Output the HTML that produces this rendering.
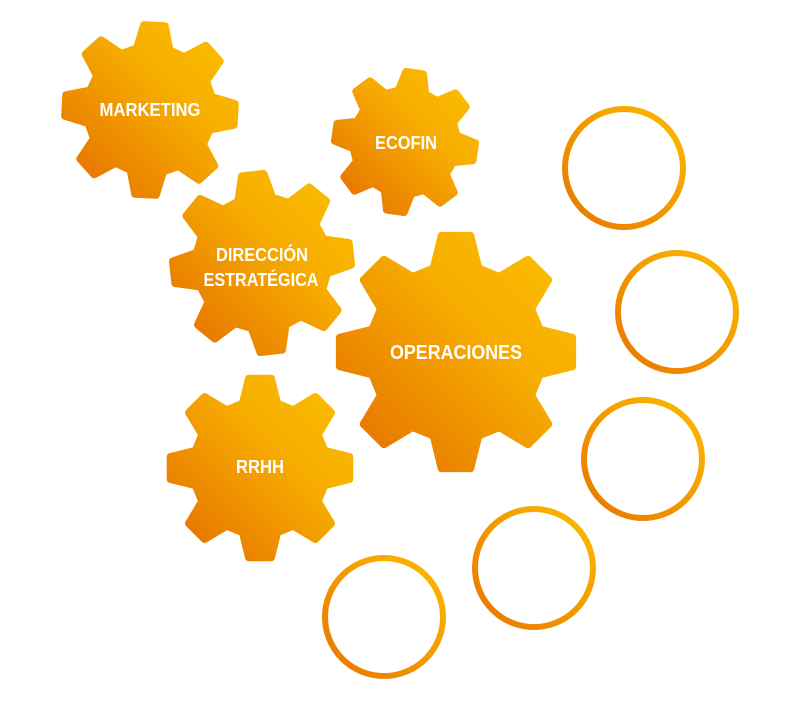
<!DOCTYPE html>
<html><head><meta charset="utf-8"><style>html,body{margin:0;padding:0;background:#fff}svg{display:block}</style></head>
<body>
<svg id="s" width="800" height="702" viewBox="0 0 800 702" xmlns="http://www.w3.org/2000/svg">
<defs>
<linearGradient id="g" x1="0" y1="1" x2="1" y2="0">
<stop offset="0" stop-color="#e56c00"/><stop offset="0.6" stop-color="#f6ac00"/><stop offset="1" stop-color="#fcbf00"/>
</linearGradient>
<linearGradient id="r" x1="0" y1="1" x2="1" y2="0">
<stop offset="0" stop-color="#e87600"/><stop offset="1" stop-color="#fcbc00"/>
</linearGradient>
</defs>
<g id="gears"></g>
<g fill="none" stroke="url(#r)" stroke-width="6">
<circle cx="624" cy="168" r="59"/>
<circle cx="677" cy="312" r="59"/>
<circle cx="643" cy="459" r="59"/>
<circle cx="534" cy="568" r="59"/>
<circle cx="384" cy="617" r="59"/>
</g>
<g font-family="Liberation Sans, sans-serif" font-weight="bold" fill="#fff" text-anchor="middle">
<text x="150" y="116" font-size="18" textLength="101" lengthAdjust="spacingAndGlyphs">MARKETING</text>
<text x="406" y="149" font-size="18" textLength="62" lengthAdjust="spacingAndGlyphs">ECOFIN</text>
<text x="262" y="261" font-size="18" textLength="92" lengthAdjust="spacingAndGlyphs">DIRECCIÓN</text>
<text x="261" y="286" font-size="18" textLength="115" lengthAdjust="spacingAndGlyphs">ESTRATÉGICA</text>
<text x="456" y="359" font-size="20" textLength="132" lengthAdjust="spacingAndGlyphs">OPERACIONES</text>
<text x="260" y="473" font-size="18" textLength="48" lengthAdjust="spacingAndGlyphs">RRHH</text>
</g>
</svg>
<script>
(function(){
var gears=[[150,110,89,3],[405,142,74,8],[262,263,93,-6],[456,352,121,0],[260,468,94,0]];
var out='';
gears.forEach(function(g){
 var cx=g[0],cy=g[1],R=g[2]-4,rot=g[3]*Math.PI/180,ri=R*0.74;
 var pts=[];
 for(var i=0;i<8;i++){
  var a=rot+i*Math.PI/4-Math.PI/2;
  var tip=7*Math.PI/180,base=15*Math.PI/180;
  pts.push([cx+ri*Math.cos(a-base),cy+ri*Math.sin(a-base)]);
  pts.push([cx+R*Math.cos(a-tip),cy+R*Math.sin(a-tip)]);
  pts.push([cx+R*Math.cos(a+tip),cy+R*Math.sin(a+tip)]);
  pts.push([cx+ri*Math.cos(a+base),cy+ri*Math.sin(a+base)]);
 }
 var d='M'+pts.map(function(p){return p[0].toFixed(1)+','+p[1].toFixed(1)}).join('L')+'Z';
 out+='<path d="'+d+'" fill="url(#g)" stroke="url(#g)" stroke-width="8" stroke-linejoin="round"/>';
});
document.getElementById('gears').innerHTML=out;
})();
</script>
</body></html>
